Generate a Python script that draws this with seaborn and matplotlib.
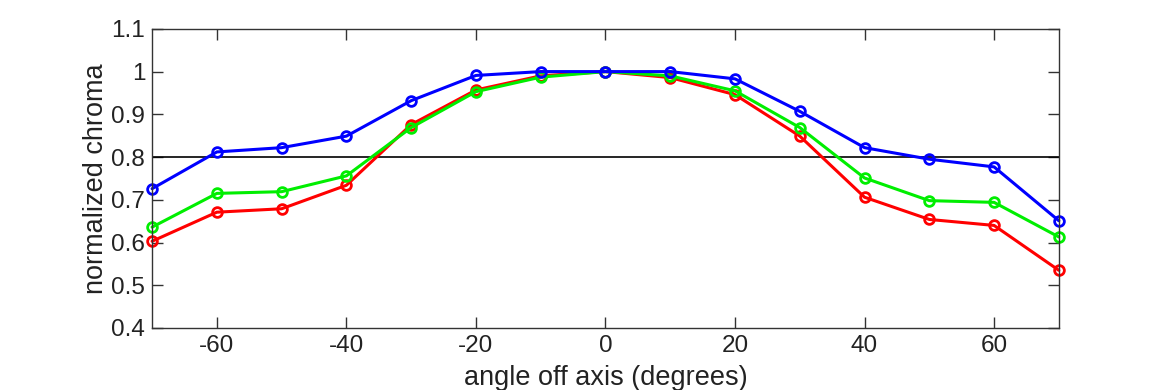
import numpy as np
import pandas as pd
import seaborn as sns
import matplotlib.pyplot as plt

# angles (degrees) and normalized chroma per channel
angles = [-70, -60, -50, -40, -30, -20, -10, 0, 10, 20, 30, 40, 50, 60, 70]
red = [0.603, 0.671, 0.679, 0.734, 0.876, 0.957, 0.990, 1.000, 0.986, 0.946, 0.849, 0.706, 0.654, 0.640, 0.535]
green = [0.636, 0.715, 0.719, 0.756, 0.869, 0.953, 0.987, 1.000, 0.990, 0.955, 0.869, 0.751, 0.698, 0.694, 0.613]
blue = [0.726, 0.812, 0.822, 0.849, 0.932, 0.991, 1.000, 1.000, 1.000, 0.983, 0.907, 0.822, 0.795, 0.777, 0.651]
threshold = 0.8

df = pd.DataFrame({'angle': angles * 3,
                   'chroma': red + green + blue,
                   'channel': ['red'] * 15 + ['green'] * 15 + ['blue'] * 15})

sns.set_style('white')
plt.rcParams['font.family'] = ['Liberation Sans', 'DejaVu Sans']
plt.rcParams['axes.unicode_minus'] = False

fig = plt.figure(figsize=(11.7, 3.9), dpi=100)
ax = fig.add_axes([0.130, 0.159, 0.775, 0.767])

ax.axhline(threshold, color='black', lw=1.2, zorder=1)

sns.lineplot(data=df, x='angle', y='chroma', hue='channel',
             palette={'red': '#ff0000', 'green': '#00ee00', 'blue': '#0000ff'},
             marker='o', markersize=7, markerfacecolor='none', markeredgewidth=2,
             lw=2.2, legend=False, ax=ax)
# markers take the line colour, and are not cut at the frame
for line in ax.lines[1:]:
    line.set_markeredgecolor(line.get_color())
    line.set_clip_on(False)

ax.set_xlim(-70, 70)
ax.set_ylim(0.4, 1.1)
ax.set_xticks([-60, -40, -20, 0, 20, 40, 60])
ax.set_yticks([0.4, 0.5, 0.6, 0.7, 0.8, 0.9, 1.0, 1.1])
ax.set_yticklabels(['0.4', '0.5', '0.6', '0.7', '0.8', '0.9', '1', '1.1'])
ax.tick_params(direction='in', length=8, width=1, labelsize=17.5, color='#333333',
               top=True, right=True, left=True, bottom=True, labelcolor='#222222', pad=5)
for sp in ax.spines.values():
    sp.set_color('#333333')
    sp.set_linewidth(1)

ax.set_xlabel('angle off axis (degrees)', fontsize=19.5, color='#222222', labelpad=6)
ax.set_ylabel('normalized chroma', fontsize=19.5, color='#222222', labelpad=2)

fig.savefig('out.png', dpi=100)
